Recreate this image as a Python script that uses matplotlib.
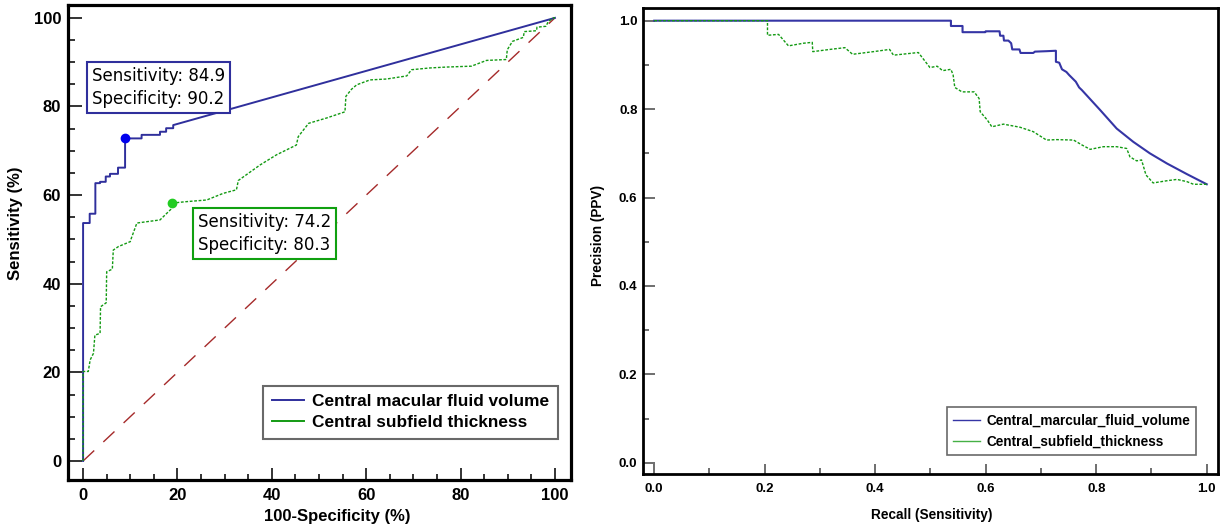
"""
ROC and precision-recall curves for central macular fluid volume
and central subfield thickness.
"""
import matplotlib
matplotlib.use('Agg')
import matplotlib.pyplot as plt
from matplotlib.ticker import MultipleLocator

plt.rcParams['font.family'] = ['Liberation Sans', 'DejaVu Sans']

# ROC, central macular fluid volume (100-specificity, sensitivity)
roc_cmfv_fpr = [0, 0, 1.4, 1.4, 2.6, 2.6, 3.6, 3.6, 4.8, 4.8, 5.7, 5.7, 7.4, 7.4,
                8.9, 8.9, 12.4, 12.4, 16.3, 16.3, 17.6, 17.6, 19.1, 19.1, 100]
roc_cmfv_tpr = [0, 53.7, 53.7, 55.8, 55.8, 62.7, 62.7, 63.0, 63.0, 64.2, 64.2, 64.8,
                64.8, 66.2, 66.2, 72.8, 72.8, 73.6, 73.6, 74.3, 74.3, 75.1, 75.1,
                75.8, 100]

# ROC, central subfield thickness
roc_cst_fpr = [0, 0, 1.1, 1.5, 2.2, 2.5, 3.6, 3.7, 4.9, 5.0, 6.2, 6.4, 7.5, 10.0,
               10.1, 11.4, 13.5, 16.3, 18.8, 18.9, 21.6, 26.2, 29.7, 32.5, 32.9,
               37.5, 41.0, 45.2, 45.6, 47.8, 51.6, 55.5, 55.7, 56.9, 58.0, 60.8,
               64.3, 68.6, 69.6, 73.5, 77.0, 82.3, 85.5, 89.7, 89.9, 91.0, 93.3,
               93.5, 96.1, 96.2, 98.1, 98.6, 99.7, 100]
roc_cst_tpr = [0, 20.2, 20.2, 22.8, 24.3, 28.4, 28.8, 34.8, 35.7, 42.7, 43.3, 47.6,
               48.4, 49.5, 49.9, 53.7, 54.0, 54.4, 57.0, 58.2, 58.5, 58.9, 60.4,
               61.2, 63.3, 66.8, 69.1, 71.3, 73.2, 76.2, 77.4, 78.8, 82.3, 83.9,
               84.9, 86.0, 86.2, 86.9, 88.3, 88.7, 88.9, 89.1, 90.4, 90.6, 92.8,
               94.7, 95.6, 96.9, 97.1, 97.9, 98.1, 99.2, 100, 100]

# operating points and their labels
cut_cmfv = (8.9, 72.8)
cut_cst = (18.9, 58.2)
cut_cmfv_text = "Sensitivity: 84.9\nSpecificity: 90.2"
cut_cst_text = "Sensitivity: 74.2\nSpecificity: 80.3"

# precision-recall, central macular fluid volume
pr_cmfv_recall = [0, 0.537, 0.537, 0.558, 0.558, 0.599, 0.600, 0.625, 0.626, 0.632,
                  0.633, 0.641, 0.646, 0.648, 0.661, 0.663, 0.686, 0.689, 0.710,
                  0.727, 0.727, 0.733, 0.738, 0.746, 0.751, 0.763, 0.769, 0.774,
                  0.807, 0.837, 0.867, 0.897, 0.928, 0.964, 1.0]
pr_cmfv_prec = [1.0, 1.0, 0.988, 0.988, 0.974, 0.974, 0.976, 0.976, 0.966, 0.966,
                0.955, 0.955, 0.949, 0.935, 0.935, 0.927, 0.927, 0.930, 0.931,
                0.932, 0.907, 0.905, 0.890, 0.884, 0.877, 0.862, 0.849, 0.843,
                0.798, 0.756, 0.726, 0.700, 0.677, 0.653, 0.630]

# precision-recall, central subfield thickness
pr_cst_recall = [0, 0.205, 0.205, 0.225, 0.243, 0.270, 0.286, 0.287, 0.318, 0.345,
                 0.359, 0.397, 0.426, 0.433, 0.478, 0.499, 0.512, 0.522, 0.537,
                 0.541, 0.544, 0.557, 0.579, 0.588, 0.590, 0.603, 0.611, 0.632,
                 0.662, 0.686, 0.710, 0.728, 0.759, 0.774, 0.789, 0.813, 0.837,
                 0.855, 0.861, 0.873, 0.882, 0.890, 0.903, 0.928, 0.946, 0.964,
                 0.976, 1.0]
pr_cst_prec = [1.0, 1.0, 0.967, 0.969, 0.943, 0.949, 0.951, 0.930, 0.935, 0.939,
               0.924, 0.930, 0.935, 0.922, 0.928, 0.894, 0.897, 0.887, 0.890,
               0.877, 0.849, 0.839, 0.839, 0.824, 0.794, 0.775, 0.760, 0.766,
               0.759, 0.749, 0.730, 0.731, 0.730, 0.719, 0.709, 0.715, 0.715,
               0.711, 0.692, 0.683, 0.685, 0.651, 0.633, 0.638, 0.641, 0.636,
               0.630, 0.630]

BLUE = '#2f2f9c'
GREEN = '#139a13'

fig = plt.figure(figsize=(12.25, 5.29), dpi=100)
ax1 = fig.add_axes([0.0555, 0.0934, 0.4106, 0.8971])
ax2 = fig.add_axes([0.5249, 0.1034, 0.4690, 0.8809])

# ---- ROC panel
ax1.plot([0, 100], [0, 100], color='#a52a2a', lw=1.0, dashes=(11, 9))
ax1.plot(roc_cmfv_fpr, roc_cmfv_tpr, color=BLUE, lw=1.4,
         label='Central macular fluid volume')
ax1.plot(roc_cst_fpr, roc_cst_tpr, color=GREEN, lw=1.0, dashes=(2, 1.2),
         label='Central subfield thickness')
ax1.plot(*cut_cmfv, 'o', color='#0000ee', ms=6, zorder=5)
ax1.plot(*cut_cst, 'o', color='#22cc22', ms=6, zorder=5)

ax1.text(1.84, 89.0, cut_cmfv_text, family='DejaVu Sans', fontsize=12,
         ha='left', va='top', linespacing=1.35, zorder=6,
         bbox=dict(boxstyle='square,pad=0.3', fc='white', ec=BLUE, lw=1.5))
ax1.text(24.4, 56.0, cut_cst_text, family='DejaVu Sans', fontsize=12,
         ha='left', va='top', linespacing=1.35, zorder=6,
         bbox=dict(boxstyle='square,pad=0.3', fc='white', ec='#10a010', lw=1.5))

ax1.set_xlim(-3.2, 103.4)
ax1.set_ylim(-4.2, 102.9)
ax1.xaxis.set_major_locator(MultipleLocator(20))
ax1.xaxis.set_minor_locator(MultipleLocator(5))
ax1.yaxis.set_major_locator(MultipleLocator(20))
ax1.yaxis.set_minor_locator(MultipleLocator(5))
ax1.tick_params(which='both', direction='in', top=False, right=False,
                color='#333333', width=1.4, labelsize=12)
ax1.tick_params(axis='x', which='major', length=8.5, pad=6)
ax1.tick_params(axis='x', which='minor', length=4.5)
ax1.tick_params(axis='y', which='major', length=10, pad=5)
ax1.tick_params(axis='y', which='minor', length=5)
for lbl in ax1.get_xticklabels() + ax1.get_yticklabels():
	lbl.set_fontweight('bold')
for sp in ax1.spines.values():
	sp.set_linewidth(2.3)
ax1.set_xlabel('100-Specificity (%)', fontsize=12, fontweight='bold')
ax1.set_ylabel('Sensitivity (%)', fontsize=12, fontweight='bold')
ax1.xaxis.set_label_coords(0.535, -0.062)
ax1.yaxis.set_label_coords(-0.0895, 0.54)

leg1 = ax1.legend(loc='lower right', bbox_to_anchor=(0.974, 0.0855),
                  prop={'weight': 'bold', 'size': 12.4}, fancybox=False,
                  borderaxespad=0, handlelength=1.85, borderpad=0.5,
                  labelspacing=0.35, handletextpad=0.5)
leg1.get_frame().set_edgecolor('#444444')
leg1.get_frame().set_linewidth(1.5)
for h in leg1.get_lines():
	h.set_linestyle('-')
	h.set_linewidth(1.4)

# ---- precision-recall panel
ax2.plot(pr_cmfv_recall, pr_cmfv_prec, color='#3535a5', lw=1.5,
         label='Central_marcular_fluid_volume')
ax2.plot(pr_cst_recall, pr_cst_prec, color=GREEN, lw=1.0, dashes=(2, 1.2),
         label='Central_subfield_thickness')

ax2.set_xlim(-0.0203, 1.0195)
ax2.set_ylim(-0.026, 1.028)
ax2.xaxis.set_major_locator(MultipleLocator(0.2))
ax2.xaxis.set_minor_locator(MultipleLocator(0.1))
ax2.yaxis.set_major_locator(MultipleLocator(0.2))
ax2.yaxis.set_minor_locator(MultipleLocator(0.1))
ax2.tick_params(which='both', direction='in', top=False, right=False,
                color='#555555', width=1.2, labelsize=9.5)
ax2.tick_params(axis='x', which='major', length=7.5, pad=6)
ax2.tick_params(axis='x', which='minor', length=4)
ax2.tick_params(axis='y', which='major', length=8.5, pad=4)
ax2.tick_params(axis='y', which='minor', length=4.5)
for lbl in ax2.get_xticklabels() + ax2.get_yticklabels():
	lbl.set_fontweight('bold')
for sp in ax2.spines.values():
	sp.set_linewidth(2.0)
ax2.set_xlabel('Recall (Sensitivity)', fontsize=9.8, fontweight='bold')
ax2.set_ylabel('Precision (PPV)', fontsize=9.8, fontweight='bold')
ax2.xaxis.set_label_coords(0.503, -0.072)
ax2.yaxis.set_label_coords(-0.066, 0.513)

leg2 = ax2.legend(loc='lower right', bbox_to_anchor=(0.9626, 0.0414),
                  prop={'weight': 'bold', 'size': 9.8}, fancybox=False,
                  borderaxespad=0, handlelength=2.0, borderpad=0.45,
                  labelspacing=0.55, handletextpad=0.45)
leg2.get_frame().set_edgecolor('#444444')
leg2.get_frame().set_linewidth(1.2)
leg_cols = ['#3535a5', '#45b045']
for h, c in zip(leg2.get_lines(), leg_cols):
	h.set_linestyle('-')
	h.set_linewidth(1.0)
	h.set_color(c)

fig.savefig('out.png', dpi=100)
plt.close(fig)
